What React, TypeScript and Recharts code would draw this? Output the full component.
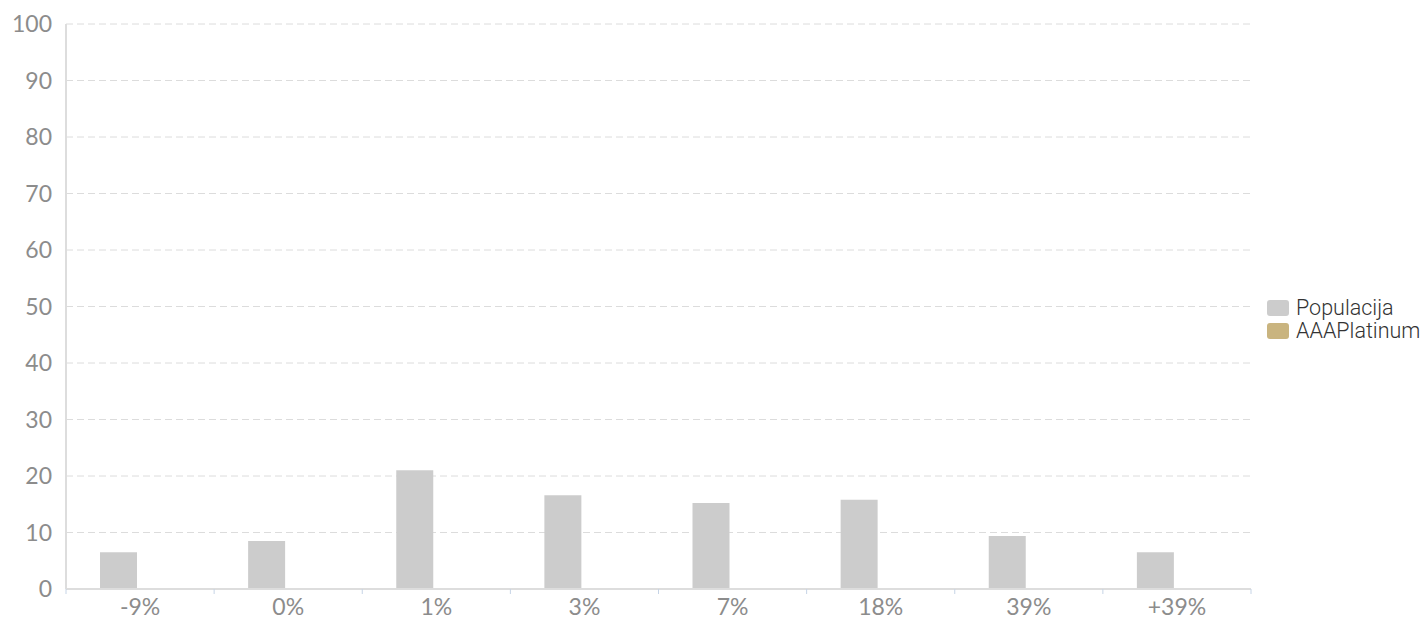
import { BarChart, Bar, XAxis, YAxis, CartesianGrid } from "recharts";

const categories = ["-9%", "0%", "1%", "3%", "7%", "18%", "39%", "+39%"];
const populacija = [6.5, 8.5, 21, 16.6, 15.2, 15.8, 9.4, 6.5];
const aaaPlatinum = [0, 0, 0, 0, 0, 0, 0, 0];
const yTicks = [0, 10, 20, 30, 40, 50, 60, 70, 80, 90, 100];

const series = [
  { key: "populacija", name: "Populacija", color: "#cccccc" },
  { key: "aaaPlatinum", name: "AAAPlatinum", color: "#c9b47f" },
];

const data = categories.map((cat, i) => ({
  cat,
  populacija: populacija[i],
  aaaPlatinum: aaaPlatinum[i],
}));

const labelFont = "Lato, 'Open Sans', sans-serif";

function XTick(props: any) {
  const { x, y, payload, index } = props;
  const off = payload.offset || 0;
  const last = index === categories.length - 1;
  return (
    <g>
      <line x1={x - off} x2={x - off} y1={y - 8} y2={y - 3} stroke="#c6d4e6" />
      {last && <line x1={x + off} x2={x + off} y1={y - 8} y2={y - 3} stroke="#c6d4e6" />}
      <text
        x={x}
        y={y + 9}
        textAnchor="middle"
        fill="#8c8c8c"
        fontSize={23}
        fontFamily={labelFont}
        dominantBaseline="central"
      >
        {payload.value}
      </text>
    </g>
  );
}

export default function App() {
  return (
    <div style={{ position: "absolute", left: 0, top: 0, width: 1425, height: 621 }}>
      <BarChart
        width={1425}
        height={621}
        data={data}
        margin={{ top: 24, right: 174, bottom: 0, left: 0 }}
        barSize={37}
        barGap={6}
      >
        <CartesianGrid vertical={false} stroke="#dcdcdc" strokeDasharray="7 4" />
        <XAxis
          dataKey="cat"
          height={32}
          axisLine={{ stroke: "#dddddd", strokeWidth: 2 }}
          tickLine={false}
          tick={<XTick />}
          interval={0}
        />
        <YAxis
          width={66}
          domain={[0, 100]}
          ticks={yTicks}
          axisLine={{ stroke: "#dddddd", strokeWidth: 2 }}
          tickLine={false}
          tickMargin={8}
          tick={{ fill: "#8c8c8c", fontSize: 23, fontFamily: labelFont }}
        />
        {series.map((s) => (
          <Bar key={s.key} dataKey={s.key} name={s.name} fill={s.color} isAnimationActive={false} />
        ))}
      </BarChart>
      <div
        style={{
          position: "absolute",
          left: 1267,
          top: 296,
          fontFamily: "Roboto, 'Noto Sans', sans-serif",
          fontSize: 21.5,
          fontWeight: 300,
          color: "#333",
          lineHeight: "23px",
          whiteSpace: "nowrap",
        }}
      >
        {series.map((s) => (
          <div key={s.key} style={{ display: "flex", alignItems: "center" }}>
            <span
              style={{
                width: 22,
                height: 16,
                borderRadius: 3,
                background: s.color,
                marginRight: 7,
                display: "inline-block",
              }}
            />
            {s.name}
          </div>
        ))}
      </div>
    </div>
  );
}
